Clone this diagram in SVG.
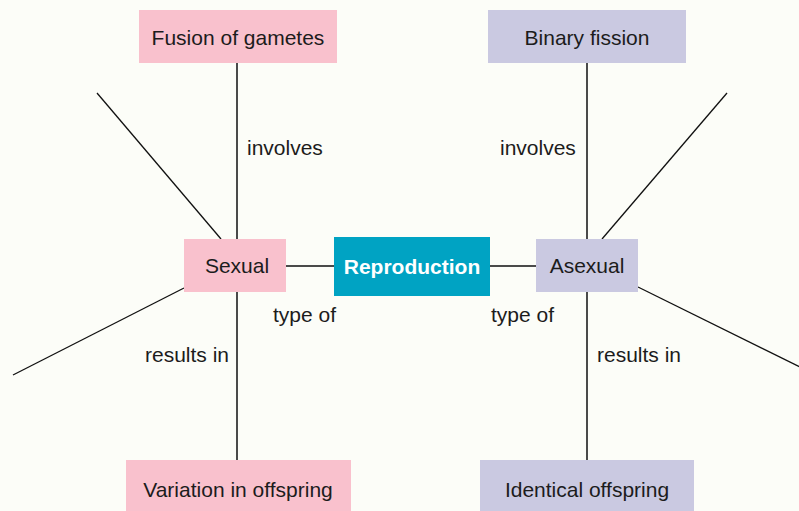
<svg xmlns="http://www.w3.org/2000/svg" width="799" height="511" viewBox="0 0 799 511">
  <style>
    text { font-family: "Liberation Sans", Arial, sans-serif; font-size: 21px; fill: #1c1c1c; }
    .c { text-anchor: middle; }
    .pink { fill: #f9c1cd; }
    .lav { fill: #cac9e1; }
    .main { fill: #00a3c3; }
    .main-t { fill: #ffffff; font-weight: bold; }
    .link { stroke: #4a4a4a; stroke-width: 2; fill: none; }
    .spoke { stroke: #111111; stroke-width: 1.3; fill: none; }
  </style>
  <rect width="799" height="511" fill="#fcfdf8"/>

  <g id="connectors">
    <line class="link" x1="237" y1="63" x2="237" y2="460"/>
    <line class="link" x1="587" y1="63" x2="587" y2="460"/>
    <line class="link" x1="286" y1="266" x2="334" y2="266"/>
    <line class="link" x1="490" y1="266" x2="536" y2="266"/>
    <line class="spoke" x1="97" y1="93" x2="221" y2="239"/>
    <line class="spoke" x1="184" y1="288" x2="13" y2="375"/>
    <line class="spoke" x1="727" y1="93" x2="602" y2="239"/>
    <line class="spoke" x1="638" y1="287" x2="810" y2="372"/>
    <text x="247" y="155">involves</text>
    <text x="500" y="155">involves</text>
    <text x="273" y="322">type of</text>
    <text x="491" y="322">type of</text>
    <text x="145" y="362">results in</text>
    <text x="597" y="362">results in</text>
  </g>

  <g id="fusion">
    <rect class="pink" x="139" y="10" width="198" height="53"/>
    <text class="c" x="238" y="45">Fusion of gametes</text>
  </g>
  <g id="binary">
    <rect class="lav" x="488" y="10" width="198" height="53"/>
    <text class="c" x="587" y="45">Binary fission</text>
  </g>
  <g id="sexual">
    <rect class="pink" x="184" y="239" width="102" height="53"/>
    <text class="c" x="237" y="273">Sexual</text>
  </g>
  <g id="reproduction">
    <rect class="main" x="334" y="237" width="156" height="59"/>
    <text class="c main-t" x="412" y="274">Reproduction</text>
  </g>
  <g id="asexual">
    <rect class="lav" x="536" y="239" width="102" height="53"/>
    <text class="c" x="587" y="273">Asexual</text>
  </g>
  <g id="variation">
    <rect class="pink" x="126" y="460" width="225" height="55"/>
    <text class="c" x="238" y="497">Variation in offspring</text>
  </g>
  <g id="identical">
    <rect class="lav" x="480" y="460" width="214" height="55"/>
    <text class="c" x="587" y="497">Identical offspring</text>
  </g>
</svg>
